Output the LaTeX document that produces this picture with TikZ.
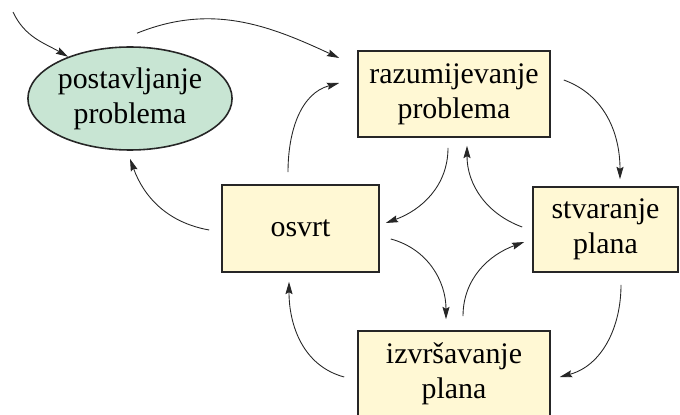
\documentclass[tikz,border=0pt]{standalone}
\usepackage{fontspec}
\setmainfont{Liberation Serif}
\usetikzlibrary{arrows.meta,shapes.geometric}
\definecolor{zuta}{RGB}{255,248,212}
\definecolor{zelena}{RGB}{200,229,211}
\tikzset{
    korak/.style={draw=black!85, fill=zuta, line width=0.9pt, align=center,
        inner sep=2pt, font=\fontsize{17}{20}\selectfont},
    pocetak/.style={ellipse, draw=black!85, fill=zelena, line width=0.9pt, align=center,
        inner sep=0pt, minimum width=3.68cm, minimum height=2.06cm,
        font=\fontsize{17}{20}\selectfont},
    veza/.style={-{Stealth[length=7pt,width=4pt,inset=1pt]}, line width=0.5pt, black!85}
}

\begin{document}
\begin{tikzpicture}
            \useasboundingbox (0,0) rectangle (13.6,8.28);

            \node [pocetak] (postavljanje) at (2.6,6.31) {postavljanje\\problema};
            \node [korak,minimum width=3.84cm,minimum height=1.72cm] (razumijevanje) at (9.08,6.4) {razumijevanje\\problema};
            \node [korak,minimum width=3.14cm,minimum height=1.74cm] (osvrt) at (6.01,3.71) {osvrt};
            \node [korak,minimum width=2.9cm,minimum height=1.7cm] (stvaranje) at (12.11,3.69) {stvaranje\\plana};
            \node [korak,minimum width=3.84cm,minimum height=1.72cm] (izvrsavanje) at (9.08,0.8) {izvršavanje\\plana};

            \coordinate (ulaz) at (0.26,8.04);

            \draw [veza] (ulaz) to[out=-65,in=150] (postavljanje.146);
            \draw [veza] ([xshift=0.14cm,yshift=0.26cm]postavljanje.north)
                to[out=22,in=155] ([xshift=-0.36cm,yshift=0.72cm]razumijevanje.west);
            \draw [veza] ([xshift=-0.25cm,yshift=0.24cm]osvrt.north)
                to[out=90,in=195] ([xshift=-0.36cm,yshift=0.22cm]razumijevanje.west);
            \draw [veza] ([xshift=-0.24cm,yshift=-0.03cm]osvrt.west)
                to[out=170,in=-70] ([yshift=-0.16cm]postavljanje.south);

            \draw [veza] ([xshift=0.26cm,yshift=0.28cm]razumijevanje.east)
                to[out=-20,in=90] ([xshift=0.29cm,yshift=0.14cm]stvaranje.north);
            \draw [veza] ([xshift=-0.12cm,yshift=-0.2cm]razumijevanje.south)
                to[out=-90,in=20] ([xshift=0.12cm,yshift=0.11cm]osvrt.east);
            \draw [veza] ([xshift=-0.2cm,yshift=0.05cm]stvaranje.west)
                to[out=160,in=-90] ([xshift=0.26cm,yshift=-0.16cm]razumijevanje.south);
            \draw [veza] ([xshift=0.22cm,yshift=-0.21cm]osvrt.east)
                to[out=-15,in=90] ([xshift=-0.16cm,yshift=0.22cm]izvrsavanje.north);
            \draw [veza] ([xshift=0.18cm,yshift=0.28cm]izvrsavanje.north)
                to[out=90,in=200] ([xshift=-0.16cm,yshift=-0.25cm]stvaranje.west);
            \draw [veza] ([xshift=0.31cm,yshift=-0.24cm]stvaranje.south)
                to[out=-90,in=15] ([xshift=0.18cm,yshift=-0.06cm]izvrsavanje.east);
            \draw [veza] ([xshift=-0.26cm,yshift=-0.06cm]izvrsavanje.west)
                to[out=165,in=-90] ([xshift=-0.23cm,yshift=-0.18cm]osvrt.south);
        \end{tikzpicture}
\end{document}
